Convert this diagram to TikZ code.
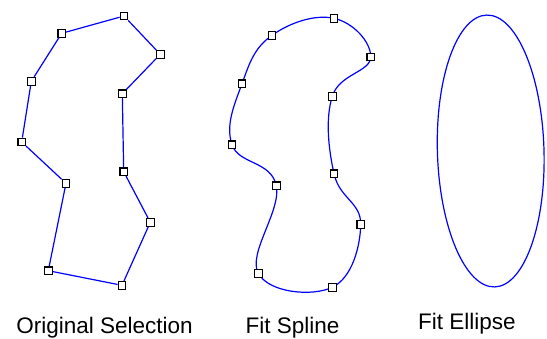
\documentclass[tikz,border=0pt]{standalone}
\usepackage{fontspec}
\setmainfont{Liberation Sans}
\usetikzlibrary{backgrounds}

\begin{document}
\begin{tikzpicture}[x=1pt,y=-1pt]
\tikzstyle{handle}=[draw=black,fill=white,line width=1.2pt,minimum size=7.6pt,inner sep=0pt]
\tikzstyle{outline}=[draw=blue,line width=1.2pt]
\tikzstyle{caption}=[font=\fontsize{22.5}{25}\selectfont,anchor=base,inner sep=0pt]
\useasboundingbox (0,0) rectangle (547,338);
% original selection
\node [handle] (o1) at (124,16) {};
\node [handle] (o2) at (160.3,54.3) {};
\node [handle] (o3) at (122.3,93.7) {};
\node [handle] (o4) at (123.7,171.7) {};
\node [handle] (o5) at (150.3,222.3) {};
\node [handle] (o6) at (122,285.3) {};
\node [handle] (o7) at (48.3,270.7) {};
\node [handle] (o8) at (66,183.3) {};
\node [handle] (o9) at (21.7,142) {};
\node [handle] (o10) at (31.3,81.3) {};
\node [handle] (o11) at (61.7,33.3) {};
\draw [outline] (o1) -- (o2) -- (o3) -- (o4) -- (o5) -- (o6) -- (o7) -- (o8) -- (o9) -- (o10) -- (o11) -- (o1);
% fit spline
\node [handle] (s1) at (334,18.3) {};
\node [handle] (s2) at (370.7,57) {};
\node [handle] (s3) at (332.3,96.3) {};
\node [handle] (s4) at (334,173.7) {};
\node [handle] (s5) at (360.7,224.3) {};
\node [handle] (s6) at (332.3,287.3) {};
\node [handle] (s7) at (258.3,273.3) {};
\node [handle] (s8) at (276.3,185.7) {};
\node [handle] (s9) at (232,144.7) {};
\node [handle] (s10) at (242,83.7) {};
\node [handle] (s11) at (272,35.3) {};
\begin{pgfonlayer}{background}
\draw [outline] plot [smooth cycle,tension=0.7] coordinates {(s1.center) (s2.center) (s3.center) (s4.center) (s5.center) (s6.center) (s7.center) (s8.center) (s9.center) (s10.center) (s11.center)};
\end{pgfonlayer}
% fit ellipse
\draw [outline,rotate around={1.7:(490.7,151)}] (490.7,151) ellipse [x radius=53.3,y radius=136];
% captions
\node [caption] (l1) at (104.5,333) {Original Selection};
\node [caption] (l2) at (292.5,333) {Fit Spline};
\node [caption] (l3) at (467,329) {Fit Ellipse};
\end{tikzpicture}
\end{document}
